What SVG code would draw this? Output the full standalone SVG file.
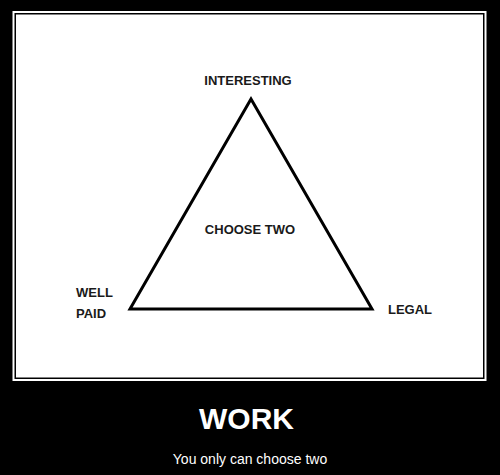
<svg xmlns="http://www.w3.org/2000/svg" width="500" height="475" viewBox="0 0 500 475">
<style>
.lbl{font-family:"Liberation Sans",Arial,sans-serif;font-weight:bold;font-size:13px;fill:#1a1a1a}
.edge{fill:none;stroke:#000;stroke-width:3;stroke-linejoin:miter}
</style>
<rect x="0" y="0" width="500" height="475" fill="#000"/>
<g id="frame">
<rect x="12.5" y="11" width="474" height="370" fill="#fff"/>
<rect x="15.25" y="13.75" width="468.5" height="364.5" fill="none" stroke="#000" stroke-width="1.5"/>
</g>
<g id="connectors">
<polygon class="edge" points="251,99 130,309 372,309"/>
</g>
<g id="node-interesting"><text class="lbl" x="248" y="85" text-anchor="middle">INTERESTING</text></g>
<g id="node-choose"><text class="lbl" x="250" y="234" text-anchor="middle">CHOOSE TWO</text></g>
<g id="node-wellpaid"><text class="lbl" x="76" y="297">WELL</text><text class="lbl" x="76" y="318">PAID</text></g>
<g id="node-legal"><text class="lbl" x="388" y="314">LEGAL</text></g>
<g id="caption">
<text x="246.5" y="429" text-anchor="middle" font-family="Liberation Sans, Arial, sans-serif" font-weight="bold" font-size="30" fill="#fff">WORK</text>
<text x="250" y="464" text-anchor="middle" font-family="Liberation Sans, Arial, sans-serif" font-size="14" fill="#fff">You only can choose two</text>
</g>
</svg>
